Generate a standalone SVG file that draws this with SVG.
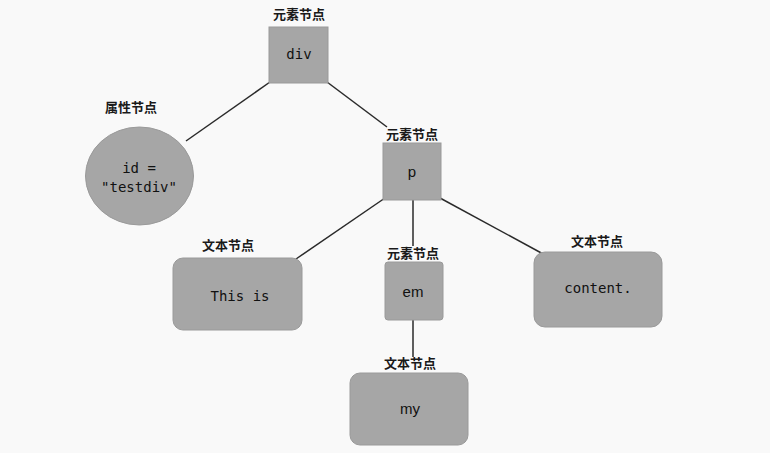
<svg xmlns="http://www.w3.org/2000/svg" width="770" height="453" viewBox="0 0 770 453">
<style>
.bg{fill:#f9f9f9}
.n{fill:#a6a6a6;stroke:#9a9a9a;stroke-width:1}
.lbl{font-family:"Noto Sans CJK SC","Noto Sans",sans-serif;font-size:13px;font-weight:bold;fill:#1a1a1a;text-anchor:middle}
.mono{font-family:"DejaVu Sans Mono","Liberation Mono",monospace;font-size:14px;fill:#111;text-anchor:middle}
.sans{font-family:"Liberation Sans",Arial,sans-serif;font-size:15px;fill:#111;text-anchor:middle}
.c line{stroke:#2a2a2a;stroke-width:1.5}
</style>
<rect class="bg" x="0" y="0" width="770" height="453"/>
<g class="c" id="connectors">
<line x1="270" y1="82" x2="186" y2="141"/>
<line x1="327" y1="82" x2="387" y2="127"/>
<line x1="385" y1="198" x2="296" y2="259"/>
<line x1="413" y1="200" x2="413" y2="246"/>
<line x1="440" y1="198" x2="545" y2="255"/>
<line x1="413" y1="320" x2="413" y2="357"/>
</g>
<g id="div">
<text class="lbl" x="299" y="19">元素节点</text>
<rect class="n" x="269" y="27" width="59" height="56"/>
<text class="mono" x="299" y="59">div</text>
</g>
<g id="attr">
<text class="lbl" x="131" y="112">属性节点</text>
<ellipse class="n" cx="139.5" cy="176" rx="54" ry="49"/>
<text class="mono" x="139" y="173">id =</text>
<text class="mono" x="139" y="192">"testdiv"</text>
</g>
<g id="p">
<text class="lbl" x="412" y="139">元素节点</text>
<rect class="n" x="383" y="143" width="58" height="57"/>
<text class="sans" x="412" y="177">p</text>
</g>
<g id="text1">
<text class="lbl" x="228" y="250">文本节点</text>
<rect class="n" x="173" y="258" width="129" height="72" rx="10"/>
<text class="mono" x="240" y="301">This is</text>
</g>
<g id="em">
<text class="lbl" x="413" y="258">元素节点</text>
<rect class="n" x="385" y="262" width="58" height="58" rx="3"/>
<text class="sans" x="413" y="297">em</text>
</g>
<g id="text2">
<text class="lbl" x="597" y="246">文本节点</text>
<rect class="n" x="534" y="252" width="128" height="75" rx="11"/>
<text class="mono" x="598" y="293">content.</text>
</g>
<g id="text3">
<text class="lbl" x="410" y="368">文本节点</text>
<rect class="n" x="350" y="373" width="118" height="72" rx="10"/>
<text class="sans" x="410" y="414">my</text>
</g>
</svg>
